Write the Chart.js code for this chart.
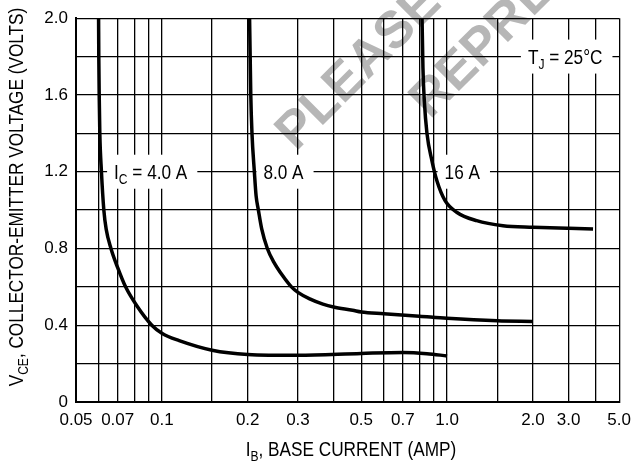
<!DOCTYPE html>
<html>
<head>
<meta charset="utf-8">
<script src="https://cdn.jsdelivr.net/npm/chart.js@4.4.1/dist/chart.umd.min.js"></script>
<style>
  html, body { margin: 0; padding: 0; background: #fff; }
  #wrap { width: 639px; height: 462px; }
</style>
</head>
<body>
<div id="wrap"><canvas id="satChart" width="639" height="462"></canvas></div>
<script>
// Collector saturation region: V_CE against I_B for three collector currents
const ic4Base = [0.0600, 0.0601, 0.0603, 0.0606, 0.0614, 0.0626, 0.0638, 0.0663, 0.070, 0.0746, 0.0818, 0.0922, 0.1003, 0.115, 0.15, 0.2, 0.3, 0.5, 0.7, 0.85, 1.0];
const ic4Vce  = [2.0, 1.8, 1.6, 1.4, 1.2, 1.0, 0.9, 0.8, 0.7, 0.6, 0.5, 0.4, 0.357, 0.32, 0.27, 0.248, 0.243, 0.253, 0.258, 0.252, 0.24];

const ic8Base = [0.203, 0.204, 0.205, 0.207, 0.211, 0.214, 0.218, 0.2239, 0.2343, 0.2472, 0.2649, 0.2846, 0.3, 0.3298, 0.3669, 0.4, 0.4664, 0.5, 0.6, 0.8, 1.0, 1.5, 2.0];
const ic8Vce  = [2.0, 1.8, 1.6, 1.4, 1.2, 1.074, 1.0, 0.902, 0.80, 0.728, 0.659, 0.60, 0.571, 0.537, 0.51, 0.495, 0.478, 0.469, 0.46, 0.447, 0.436, 0.423, 0.42];

const ic16Base = [0.817, 0.823, 0.832, 0.850, 0.885, 0.921, 0.984, 1.08, 1.27, 1.57, 2.0, 3.0, 3.9];
const ic16Vce  = [2.0, 1.74, 1.57, 1.40, 1.257, 1.153, 1.049, 0.989, 0.945, 0.919, 0.911, 0.905, 0.902];

// axis ticks
const xGridValues = [0.05, 0.06, 0.07, 0.08, 0.09, 0.1, 0.15, 0.2, 0.3, 0.4, 0.5, 0.6, 0.7, 0.8, 0.9, 1, 1.5, 2, 3, 4, 5];
const xLabelValues = [0.05, 0.07, 0.1, 0.2, 0.3, 0.5, 0.7, 1, 2, 3, 5];
const yLabelValues = [0, 0.4, 0.8, 1.2, 1.6, 2.0];

const textFont = '"Liberation Sans", Arial, sans-serif';
const squeeze = 0.86; // titles and curve labels are set in a condensed face

// log spacing up to 2 A, the last stretch up to 5 A is squeezed
const bendKnots = [[0.05, 0], [2, 461 / 548], [3, 497 / 548], [4, 524 / 548], [5, 1]];
function bend(v) {
  const lv = Math.log10(v);
  for (let i = 1; i < bendKnots.length; i++) {
    const [v0, f0] = bendKnots[i - 1], [v1, f1] = bendKnots[i];
    if (v <= v1 || i === bendKnots.length - 1) {
      const l0 = Math.log10(v0), l1 = Math.log10(v1);
      return f0 + (f1 - f0) * (lv - l0) / (l1 - l0);
    }
  }
}
function unbend(f) {
  for (let i = 1; i < bendKnots.length; i++) {
    const [v0, f0] = bendKnots[i - 1], [v1, f1] = bendKnots[i];
    if (f <= f1 || i === bendKnots.length - 1) {
      const l0 = Math.log10(v0), l1 = Math.log10(v1);
      return Math.pow(10, l0 + (l1 - l0) * (f - f0) / (f1 - f0));
    }
  }
}

class BentLogScale extends Chart.LogarithmicScale {
  static id = 'bentLog';
  static defaults = Chart.LogarithmicScale.defaults;
  getPixelForValue(value) {
    if (value === undefined || value === null || value <= 0) value = this.min;
    return this.getPixelForDecimal(bend(value));
  }
  getValueForPixel(pixel) {
    return unbend(this.getDecimalForPixel(pixel));
  }
}
Chart.register(BentLogScale);

// text with subscripts: parts are [text] or [text, 'sub']; widths already squeezed
function richWidth(ctx, parts, size) {
  let w = 0;
  parts.forEach(p => {
    ctx.font = (p[1] ? Math.round(size * 0.7) : size) + 'px ' + textFont;
    w += ctx.measureText(p[0]).width;
  });
  return w * squeeze;
}
function drawRich(ctx, parts, x, y, size) {
  ctx.save();
  ctx.translate(x, y);
  ctx.scale(squeeze, 1);
  let cx = 0;
  parts.forEach(p => {
    const sub = p[1] === 'sub';
    ctx.font = (sub ? Math.round(size * 0.7) : size) + 'px ' + textFont;
    ctx.fillText(p[0], cx, sub ? size * 0.25 : 0);
    cx += ctx.measureText(p[0]).width;
  });
  ctx.restore();
}

const curveLabels = [
  { parts: [['I'], ['C', 'sub'], [' = 4.0 A']], at: [0.068, 1.2] },
  { parts: [['8.0 A']], at: [0.227, 1.2] },
  { parts: [['16 A']], at: [0.98, 1.2] },
  { parts: [['T'], ['J', 'sub'], [' = 25°C']], at: [1.92, 1.8] }
];

function stamp(ctx, text, x, y) {
  ctx.save();
  ctx.fillStyle = '#b6b6b6';
  ctx.font = 'bold 52px ' + textFont;
  ctx.textBaseline = 'alphabetic';
  ctx.translate(x, y);
  ctx.rotate(-Math.PI / 4);
  ctx.fillText(text, 0, 0);
  ctx.restore();
}

const overlay = {
  id: 'overlay',
  beforeDraw(chart) {
    stamp(chart.ctx, 'PLEASE', 296, 152);
    stamp(chart.ctx, 'REPRE', 430, 120);
  },
  beforeDatasetsDraw(chart) {
    const ctx = chart.ctx, xs = chart.scales.x, ys = chart.scales.y;
    ctx.save();
    ctx.textBaseline = 'alphabetic';
    curveLabels.forEach(l => {
      const x = xs.getPixelForValue(l.at[0]);
      const y = ys.getPixelForValue(l.at[1]);
      const w = richWidth(ctx, l.parts, 20);
      ctx.fillStyle = '#fff';
      ctx.fillRect(x - 7, y - 17, w + 17, 34);
      ctx.fillStyle = '#000';
      drawRich(ctx, l.parts, x, y + 7, 20);
    });
    ctx.restore();
  },
  afterDraw(chart) {
    const ctx = chart.ctx;
    ctx.save();
    ctx.fillStyle = '#000';
    ctx.textBaseline = 'alphabetic';
    const xt = [['I'], ['B', 'sub'], [', BASE CURRENT (AMP)']];
    drawRich(ctx, xt, 351 - richWidth(ctx, xt, 20) / 2, 456, 20);
    const yt = [['V'], ['CE', 'sub'], [', COLLECTOR-EMITTER VOLTAGE (VOLTS)']];
    ctx.translate(22.5, 197);
    ctx.rotate(-Math.PI / 2);
    drawRich(ctx, yt, -richWidth(ctx, yt, 20) / 2, 0, 20);
    ctx.restore();
  }
};

function curve(base, vce) {
  return {
    data: base.map((b, i) => ({ x: b, y: vce[i] })),
    borderColor: '#000',
    borderWidth: 3.5,
    pointRadius: 0,
    cubicInterpolationMode: 'monotone',
    fill: false
  };
}

new Chart(document.getElementById('satChart'), {
  type: 'line',
  data: {
    datasets: [curve(ic4Base, ic4Vce), curve(ic8Base, ic8Vce), curve(ic16Base, ic16Vce)]
  },
  plugins: [overlay],
  options: {
    responsive: false,
    animation: false,
    events: [],
    layout: { padding: { left: 0, right: 15, top: 17, bottom: 0 } },
    plugins: { legend: { display: false }, tooltip: { enabled: false } },
    scales: {
      x: {
        type: 'bentLog',
        min: 0.05,
        max: 5,
        afterBuildTicks: s => { s.ticks = xGridValues.map(v => ({ value: v })); },
        afterFit: s => { s.height = 60; },
        grid: { color: '#000', lineWidth: 1.3, drawTicks: false },
        border: { color: '#000', width: 2 },
        ticks: {
          autoSkip: false,
          maxRotation: 0,
          padding: 8,
          color: '#000',
          font: { family: textFont, size: 17 },
          callback: v => xLabelValues.includes(v) ? (v >= 1 ? v.toFixed(1) : String(v)) : ''
        }
      },
      y: {
        type: 'linear',
        min: 0,
        max: 2,
        afterFit: s => { s.width = 76; },
        grid: { color: '#000', lineWidth: 1.3, drawTicks: false },
        border: { color: '#000', width: 2 },
        ticks: {
          stepSize: 0.2,
          padding: 8,
          color: '#000',
          font: { family: textFont, size: 17 },
          callback: v => {
            const hit = yLabelValues.find(t => Math.abs(t - v) < 1e-6);
            if (hit === undefined) return '';
            return hit === 0 ? '0' : hit.toFixed(1);
          }
        }
      }
    }
  }
});
</script>
</body>
</html>
